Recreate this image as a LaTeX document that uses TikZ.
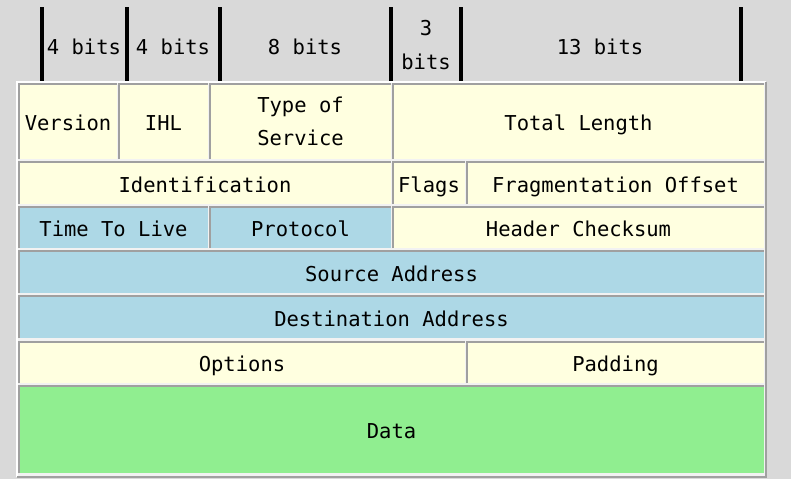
\documentclass[tikz,border=0pt]{standalone}
\usepackage{fontspec}
\newfontfamily\fieldfont{DejaVu Sans Mono}
\definecolor{pagegrey}{HTML}{D9D9D9}
\definecolor{tablebg}{HTML}{F2F2F2}
\definecolor{rimgrey}{HTML}{A0A0A0}
\definecolor{cream}{HTML}{FFFFE0}
\definecolor{skyblue}{HTML}{ADD8E6}
\definecolor{mint}{HTML}{90EE90}
\tikzset{
  cellbox/.style={inner sep=0pt, outer sep=0pt, align=center,
    font=\fieldfont\fontsize{20.5}{33}\selectfont},
  oneline/.style={text height=22pt, text depth=4pt},
  cellrim/.style={draw=rimgrey, line width=1.2pt},
  bitbar/.style={draw=black, line width=4pt},
  bitlabel/.style={inner sep=0pt, align=center,
    font=\fieldfont\fontsize{20.5}{34}\selectfont},
}
% one header field: name, left, top, right, bottom, look, text
\newcommand\ipcell[7]{%
  \node[cellbox, #6, minimum width={#4-#2}, minimum height={#5-#3}]
    (#1) at ({(#2+#4)/2},{(#3+#5)/2}) {#7};
  \draw[cellrim] (#1.south west) |- (#1.north east);
}
\begin{document}
\begin{tikzpicture}[x=1pt, y=-1pt]
  \fill[pagegrey] (0,0) rectangle (791,479);
  \useasboundingbox (0,0) rectangle (791,479);

  % bit-width ruler above the table
  \foreach \bx in {41.5,127,220,391,460.5,740.5}
    \draw[bitbar] (\bx,7) -- (\bx,82);
  \node[bitlabel, oneline] (b1) at (84,45) {4 bits};
  \node[bitlabel, oneline] (b2) at (173,45) {4 bits};
  \node[bitlabel, oneline] (b3) at (305,45) {8 bits};
  \node[bitlabel] (b4) at (426,45) {3\\bits};
  \node[bitlabel, oneline] (b5) at (600,45) {13 bits};

  % table body and its raised frame
  \fill[tablebg] (17,82) rectangle (766,477);
  \draw[white, line width=1.5pt] (17,477) |- (766,82);
  \draw[rimgrey, line width=2pt] (17,477) -| (766,82);

  % row 1
  \ipcell{ver}{19}{84}{117}{159}{fill=cream, oneline}{Version}
  \ipcell{ihl}{119}{84}{208}{159}{fill=cream, oneline}{IHL}
  \ipcell{tos}{210}{84}{391}{159}{fill=cream}{Type of\\Service}
  \ipcell{tlen}{393}{84}{764}{159}{fill=cream, oneline}{Total Length}
  % row 2
  \ipcell{ident}{19}{162}{391}{204}{fill=cream, oneline}{Identification}
  \ipcell{flags}{393}{162}{465}{204}{fill=cream, oneline}{Flags}
  \ipcell{frag}{467}{162}{764}{204}{fill=cream, oneline}{Fragmentation Offset}
  % row 3
  \ipcell{ttl}{19}{207}{208}{248}{fill=skyblue, oneline}{Time To Live}
  \ipcell{proto}{210}{207}{391}{248}{fill=skyblue, oneline}{Protocol}
  \ipcell{csum}{393}{207}{764}{248}{fill=cream, oneline}{Header Checksum}
  % rows 4 and 5
  \ipcell{src}{19}{251}{764}{293}{fill=skyblue, oneline}{Source Address}
  \ipcell{dst}{19}{296}{764}{338}{fill=skyblue, oneline}{Destination Address}
  % row 6
  \ipcell{opts}{19}{342}{465}{383}{fill=cream, oneline}{Options}
  \ipcell{pad}{467}{342}{764}{383}{fill=cream, oneline}{Padding}
  % payload
  \ipcell{data}{19}{386}{764}{473}{fill=mint, oneline}{Data}
\end{tikzpicture}
\end{document}
